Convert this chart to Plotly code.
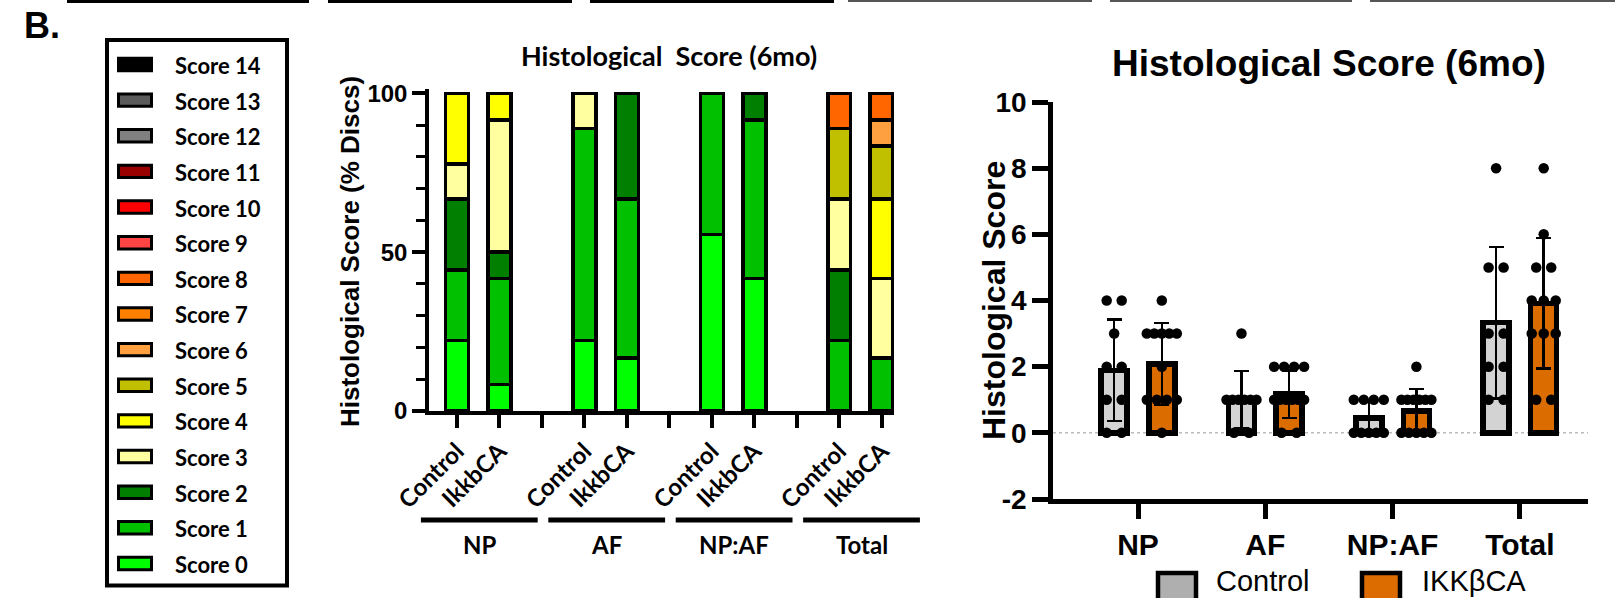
import numpy as np
import plotly.graph_objects as go

W, H = 1615, 598

# ------------------------------------------------------------------ data
regions = ["NP", "AF", "NP:AF", "Total"]
condition_ticks = ["Control", "IkkbCA"]
condition_names = ["Control", "IKKβCA"]
score_values = list(range(15))
score_names = [f"Score {s}" for s in score_values]
score_colors = ["#00FF00", "#00C000", "#007F00", "#FFFFA0", "#FFFF00", "#C0C000",
                "#FFA040", "#FF8000", "#FF6600", "#FF4444", "#FF0000", "#990000",
                "#808080", "#5A5A5A", "#000000"]

# individual disc scores (one value per disc)
np_control = [0, 0, 1, 1, 2, 2, 3, 4, 4]
af_control = [0, 0, 1, 1, 1, 1, 1, 1, 3]
npaf_control = [0, 0, 0, 0, 0, 1, 1, 1, 1]
total_control = [1, 1, 2, 2, 3, 3, 5, 5, 8]
np_ikk = [0, 1, 1, 1, 1, 2, 3, 3, 3, 3, 3, 4]
af_ikk = [0, 0, 1, 1, 1, 1, 1, 1, 2, 2, 2, 2]
npaf_ikk = [0, 0, 0, 0, 0, 1, 1, 1, 1, 1, 1, 2]
total_ikk = [1, 1, 3, 3, 3, 4, 4, 4, 5, 5, 6, 8]

pct_ticks = [0, 50, 100]
score_ticks = [-2, 0, 2, 4, 6, 8, 10]
score_tick_labels = ["-2", "0", "2", "4", "6", "8", "10"]

bar_fill = ["#D3D3D3", "#DB6C00"]
legend_fill = ["#AFAFAF", "#DC6B00"]

CAL = "Lato"
ARI = "Liberation Sans"


def px(x):
    return x / W


def py(y):
    return 1 - y / H


groups = [[np_control, af_control, npaf_control, total_control],
          [np_ikk, af_ikk, npaf_ikk, total_ikk]]

fig = go.Figure()

# ------------------------------------------------------------ middle: stacked %
bar_x, bar_sets = [], []
for g in range(len(regions)):
    for c in range(2):
        bar_x.append(3 * g + c)
        bar_sets.append(groups[c][g])

for s in score_values:
    ys = []
    for v in bar_sets:
        cnt = v.count(s)
        ys.append(100.0 * cnt / len(v) if cnt else None)
    fig.add_trace(go.Bar(x=bar_x, y=ys, width=0.54, name=score_names[s],
                         marker=dict(color=score_colors[s], line=dict(color="black", width=3.5)),
                         xaxis="x", yaxis="y", showlegend=False))

# ------------------------------------------------------------ right: mean ± SD
offs = [-0.187, 0.187]
unit_r = 127.3
for c in range(2):
    means = [float(np.mean(v)) for v in groups[c]]
    sds = [float(np.std(v, ddof=1)) for v in groups[c]]
    fig.add_trace(go.Bar(x=[g + offs[c] for g in range(4)], y=means, width=0.204,
                         marker=dict(color=bar_fill[c], line=dict(color="black", width=5.5)),
                         error_y=dict(type="data", array=sds, visible=True, color="black",
                                      thickness=2.5, width=7.5),
                         xaxis="x2", yaxis="y2", showlegend=False, name=condition_names[c]))

for c in range(2):
    dx, dy = [], []
    for g in range(4):
        vals = groups[c][g]
        for val in sorted(set(vals)):
            k = vals.count(val)
            if k == 1:
                o = [0.0]
            elif k == 2:
                o = [-7.5, 7.5]
            else:
                sp = min(12.0, 30.0 / (k - 1))
                o = [(j - (k - 1) / 2) * sp for j in range(k)]
            for oo in o:
                dx.append(g + offs[c] + oo / unit_r)
                dy.append(val)
    fig.add_trace(go.Scatter(x=dx, y=dy, mode="markers", xaxis="x2", yaxis="y2",
                             marker=dict(color="black", size=10.5), cliponaxis=False,
                             showlegend=False, hoverinfo="skip"))

# ------------------------------------------------------------ axes
m_x0, m_x1, m_zero, m_unit = 429, 894, 457, 42.47
m_y0, m_pxu = 411, 3.177
m_top = 101.2
r_x0, r_x1, r_zero = 1053, 1588, 1138
r_ytop, r_ybot = 102, 499

ticktext_mid = [("" if i % 3 == 2 else condition_ticks[i % 3]) for i in range(11)]

fig.update_layout(
    width=W, height=H, autosize=False,
    margin=dict(l=0, r=0, t=0, b=0, pad=0, autoexpand=False),
    paper_bgcolor="white", plot_bgcolor="rgba(0,0,0,0)",
    barmode="stack", showlegend=False,
    xaxis=dict(domain=[px(m_x0), px(m_x1)],
               range=[(m_x0 - m_zero) / m_unit, (m_x1 - m_zero) / m_unit],
               tickmode="array", tickvals=list(range(11)), ticktext=ticktext_mid,
               tickangle=-45, ticks="outside", ticklen=13, tickwidth=3.5, tickcolor="black",
               showline=True, linewidth=3.5, linecolor="black", showgrid=False, zeroline=False,
               tickfont=dict(family=CAL, size=24, color="black", weight=700),
               anchor="y", fixedrange=True, automargin=False),
    yaxis=dict(domain=[py(m_y0), py(m_y0 - m_top * m_pxu)], range=[0, m_top],
               tickmode="array", tickvals=pct_ticks, ticks="outside", ticklen=13,
               tickwidth=3.5, tickcolor="black",
               minor=dict(dtick=10, tick0=0, ticks="outside", ticklen=9, tickwidth=3,
                          tickcolor="black", showgrid=False),
               showline=True, linewidth=3.5, linecolor="black", showgrid=False, zeroline=False,
               tickfont=dict(family=ARI, size=24, color="black", weight=700),
               anchor="x", fixedrange=True, automargin=False),
    xaxis2=dict(domain=[px(r_x0), px(r_x1)],
                range=[(r_x0 - r_zero) / unit_r, (r_x1 - r_zero) / unit_r],
                tickmode="array", tickvals=list(range(4)), ticktext=regions,
                ticks="outside", ticklen=15, tickwidth=4.5, tickcolor="black",
                showline=True, linewidth=4.5, linecolor="black", showgrid=False, zeroline=False,
                tickfont=dict(family=ARI, size=30, color="black", weight=700),
                anchor="y2", fixedrange=True, automargin=False),
    yaxis2=dict(domain=[py(r_ybot), py(r_ytop)], range=[-2, 10],
                tickmode="array", tickvals=score_ticks, ticktext=score_tick_labels,
                ticks="outside", ticklen=16, tickwidth=4.5, tickcolor="black",
                showline=True, linewidth=4.5, linecolor="black", showgrid=False, zeroline=False,
                tickfont=dict(family=ARI, size=28, color="black", weight=700),
                anchor="x2", fixedrange=True, automargin=False),
)

shapes = []
ann = []

# top strip (edges of panels above)
for (a, b) in [(67, 309), (328, 572), (590, 834)]:
    shapes.append(dict(type="rect", xref="paper", yref="paper", x0=px(a), x1=px(b),
                       y0=py(0), y1=py(3), fillcolor="black", line=dict(width=0)))
for (a, b) in [(848, 1092), (1110, 1352), (1370, 1615)]:
    shapes.append(dict(type="rect", xref="paper", yref="paper", x0=px(a), x1=px(b),
                       y0=py(0), y1=py(2), fillcolor="#555555", line=dict(width=0)))

ann.append(dict(text="B.", xref="paper", yref="paper", x=px(22), y=py(26), xanchor="left",
                yanchor="middle", showarrow=False,
                font=dict(family=ARI, size=36, color="black", weight=700)))

# left legend panel
shapes.append(dict(type="rect", xref="paper", yref="paper", x0=px(107), x1=px(287),
                   y0=py(40), y1=py(585.5), line=dict(color="black", width=4),
                   fillcolor="rgba(0,0,0,0)"))
for i, s in enumerate(reversed(score_values)):
    yc = 64.5 + 35.64 * i
    shapes.append(dict(type="rect", xref="paper", yref="paper", x0=px(118.5), x1=px(151.5),
                       y0=py(yc - 6.2), y1=py(yc + 6.2), fillcolor=score_colors[s],
                       line=dict(color="black", width=3)))
    ann.append(dict(text=score_names[s], xref="paper", yref="paper", x=px(173), y=py(yc + 1),
                    xanchor="left", yanchor="middle", showarrow=False,
                    font=dict(family=CAL, size=22, color="black", weight=700)))

# middle chart titles
ann.append(dict(text="Histological\u00a0 Score (6mo)", xref="paper", yref="paper",
                x=px(669), y=py(55), xanchor="center", yanchor="middle", showarrow=False,
                font=dict(family=CAL, size=27, color="black", weight=700)))
ann.append(dict(text="Histological Score (% Discs)", xref="paper", yref="paper",
                x=px(350), y=py(252), xanchor="center", yanchor="middle", textangle=-90,
                showarrow=False, font=dict(family=ARI, size=26, color="black", weight=700)))
# group underlines + labels (converted from category index to paper space)
for g, name in enumerate(regions):
    xa = m_zero + (3 * g - 0.85) * m_unit
    xb = m_zero + (3 * g + 1.9) * m_unit
    shapes.append(dict(type="line", xref="paper", yref="paper", x0=px(xa), x1=px(xb),
                       y0=py(520), y1=py(520), line=dict(color="black", width=5)))
    ann.append(dict(text=name, xref="paper", yref="paper", x=px((xa + xb) / 2), y=py(544),
                    xanchor="center", yanchor="middle", showarrow=False,
                    font=dict(family=CAL, size=24, color="black", weight=700)))

# right chart titles
ann.append(dict(text="Histological Score (6mo)", xref="paper", yref="paper",
                x=px(1329), y=py(63), xanchor="center", yanchor="middle", showarrow=False,
                font=dict(family=ARI, size=37, color="black", weight=700)))
ann.append(dict(text="Histological Score", xref="paper", yref="paper",
                x=px(994), y=py(301), xanchor="center", yanchor="middle", textangle=-90,
                showarrow=False, font=dict(family=ARI, size=32, color="black", weight=700)))
# dotted zero line
shapes.append(dict(type="line", xref="x2", yref="y2", x0=(r_x0 - r_zero) / unit_r,
                   x1=(r_x1 - r_zero) / unit_r, y0=0, y1=0, layer="below",
                   line=dict(color="#BBBBBB", width=1.5, dash="dot")))
# right legend
for c, (a, tx) in enumerate([(1158, 1214), (1362, 1420)]):
    shapes.append(dict(type="rect", xref="paper", yref="paper", x0=px(a), x1=px(a + 38),
                       y0=py(573), y1=py(602), fillcolor=legend_fill[c],
                       line=dict(color="black", width=4.5)))
    ann.append(dict(text=condition_names[c], xref="paper", yref="paper", x=px(tx), y=py(581),
                    xanchor="left", yanchor="middle", showarrow=False,
                    font=dict(family=ARI, size=29, color="black")))

fig.update_layout(shapes=shapes, annotations=ann)
fig.write_html("out.html", config={"displayModeBar": False},
               post_script="document.body.style.margin='0px';")
